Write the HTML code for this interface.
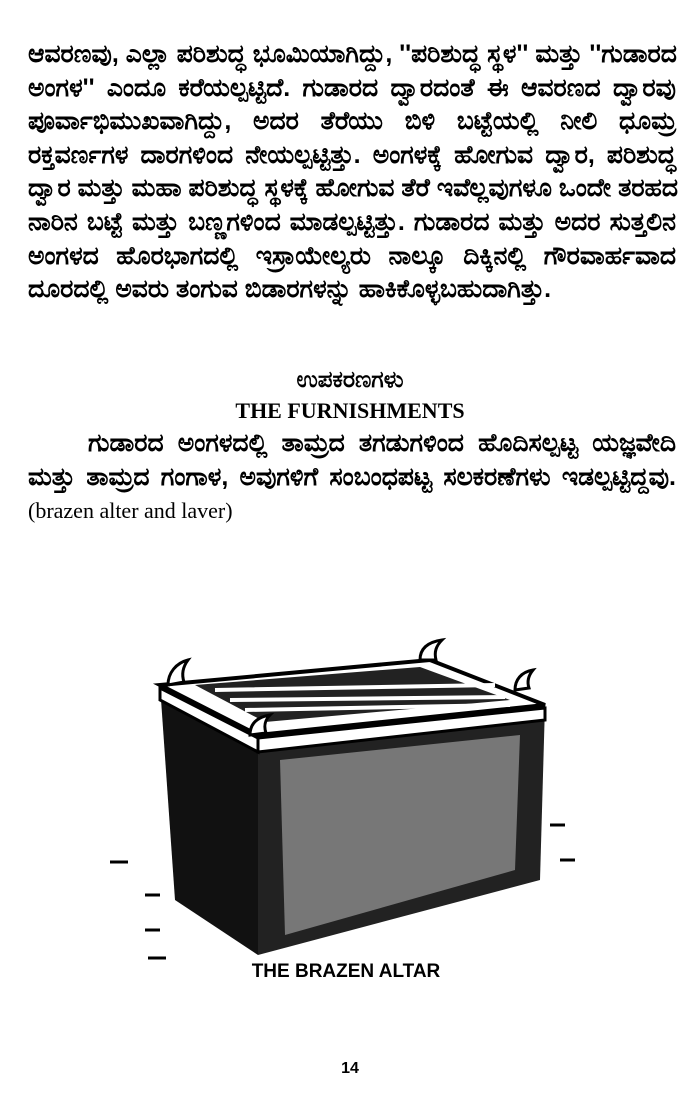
<!DOCTYPE html>
<html><head><meta charset="utf-8"><style>
body{margin:0;background:#fff;width:700px;height:1100px;position:relative;overflow:hidden;font-family:"Liberation Sans",sans-serif;color:#000}
.l{position:absolute;left:28px;width:648px;font-size:25px;font-weight:bold;white-space:nowrap;line-height:28px;text-align:justify;text-align-last:justify}
.e{text-align-last:left}
.c{position:absolute;left:0;width:700px;text-align:center}
</style></head><body>
<div class="l" style="top:40px">ಆವರಣವು, ಎಲ್ಲಾ ಪರಿಶುದ್ಧ ಭೂಮಿಯಾಗಿದ್ದು, ''ಪರಿಶುದ್ಧ ಸ್ಥಳ'' ಮತ್ತು ''ಗುಡಾರದ</div>
<div class="l" style="top:74px">ಅಂಗಳ'' ಎಂದೂ ಕರೆಯಲ್ಪಟ್ಟಿದೆ. ಗುಡಾರದ ದ್ವಾರದಂತೆ ಈ ಆವರಣದ ದ್ವಾರವು</div>
<div class="l" style="top:107px">ಪೂರ್ವಾಭಿಮುಖವಾಗಿದ್ದು, ಅದರ ತೆರೆಯು ಬಿಳಿ ಬಟ್ಟೆಯಲ್ಲಿ ನೀಲಿ ಧೂಮ್ರ</div>
<div class="l" style="top:141px">ರಕ್ತವರ್ಣಗಳ ದಾರಗಳಿಂದ ನೇಯಲ್ಪಟ್ಟಿತ್ತು. ಅಂಗಳಕ್ಕೆ ಹೋಗುವ ದ್ವಾರ, ಪರಿಶುದ್ಧ</div>
<div class="l" style="top:174px">ದ್ವಾರ ಮತ್ತು ಮಹಾ ಪರಿಶುದ್ಧ ಸ್ಥಳಕ್ಕೆ ಹೋಗುವ ತೆರೆ ಇವೆಲ್ಲವುಗಳೂ ಒಂದೇ ತರಹದ</div>
<div class="l" style="top:208px">ನಾರಿನ ಬಟ್ಟೆ ಮತ್ತು ಬಣ್ಣಗಳಿಂದ ಮಾಡಲ್ಪಟ್ಟಿತ್ತು. ಗುಡಾರದ ಮತ್ತು ಅದರ ಸುತ್ತಲಿನ</div>
<div class="l" style="top:242px">ಅಂಗಳದ ಹೊರಭಾಗದಲ್ಲಿ ಇಸ್ರಾಯೇಲ್ಯರು ನಾಲ್ಕೂ ದಿಕ್ಕಿನಲ್ಲಿ ಗೌರವಾರ್ಹವಾದ</div>
<div class="l e" style="top:275px">ದೂರದಲ್ಲಿ ಅವರು ತಂಗುವ ಬಿಡಾರಗಳನ್ನು ಹಾಕಿಕೊಳ್ಳಬಹುದಾಗಿತ್ತು.</div>
<div class="c" style="top:366px;font-size:23px;font-weight:bold">ಉಪಕರಣಗಳು</div>
<div class="c" style="top:398px;font-family:'Liberation Serif',serif;font-size:22px;font-weight:bold">THE FURNISHMENTS</div>
<div class="l" style="top:429px;left:88px;width:588px">ಗುಡಾರದ ಅಂಗಳದಲ್ಲಿ ತಾಮ್ರದ ತಗಡುಗಳಿಂದ ಹೊದಿಸಲ್ಪಟ್ಟ ಯಜ್ಞವೇದಿ</div>
<div class="l" style="top:463px">ಮತ್ತು ತಾಮ್ರದ ಗಂಗಾಳ, ಅವುಗಳಿಗೆ ಸಂಬಂಧಪಟ್ಟ ಸಲಕರಣೆಗಳು ಇಡಲ್ಪಟ್ಟಿದ್ದವು.</div>
<div style="position:absolute;top:498px;left:28px;font-family:'Liberation Serif',serif;font-size:22px">(brazen alter and laver)</div>
<svg style="position:absolute;left:0;top:0" width="700" height="1100">
<g stroke="#000" stroke-width="3" fill="none">
<path d="M110 862h18M145 895h15M145 930h15M148 958h18M550 825h15M560 860h15"/>
</g>
<polygon points="160,685 258,735 258,955 175,900" fill="#111"/>
<polygon points="258,735 545,705 540,880 258,955" fill="#222"/>
<polygon points="280,760 520,735 515,870 285,935" fill="#777"/>
<polygon points="160,685 430,660 545,705 258,735" fill="#fff" stroke="#000" stroke-width="4"/>
<polygon points="195,685 420,667 510,700 265,722" fill="#222"/>
<g stroke="#fff" stroke-width="4"><path d="M215 690l280 -5M230 700l275 -3M245 710l265 -5"/></g>
<polygon points="160,688 258,738 258,752 160,700" fill="#fff" stroke="#000" stroke-width="3"/>
<polygon points="258,738 545,708 545,720 258,752" fill="#fff" stroke="#000" stroke-width="3"/>
<g fill="#fff" stroke="#000" stroke-width="3">
<path d="M168 685c0-12 8-22 20-25c-6 8-6 16-4 22z"/>
<path d="M420 660c0-12 8-18 22-20c-6 6-8 12-6 20z"/>
<path d="M515 690c0-10 6-18 18-20c-5 6-6 12-4 18z"/>
<path d="M250 735c0-12 8-18 20-20c-6 6-6 12-4 18z"/>
</g>
</svg>
<div class="c" style="top:961px;left:-4px;font-size:19px;font-weight:bold">THE BRAZEN ALTAR</div>
<div class="c" style="top:1060px;font-size:16px;font-weight:bold">14</div>
</body></html>
